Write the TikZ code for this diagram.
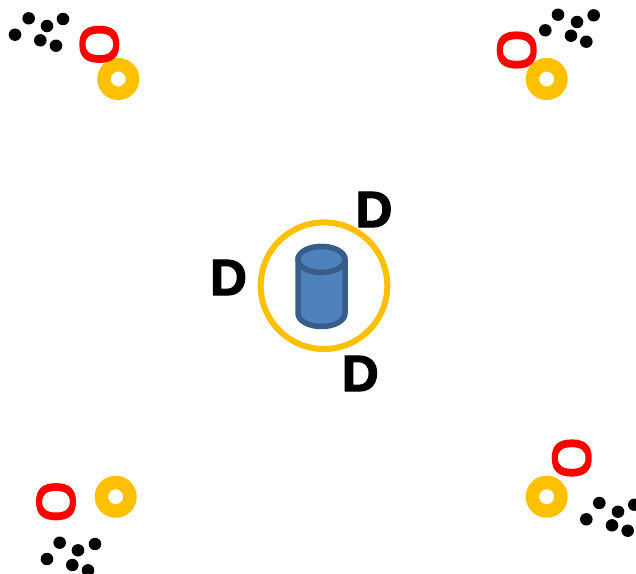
\documentclass[tikz,border=0pt]{standalone}
\usepackage{fontspec}
\setmainfont{Liberation Sans}[BoldFeatures={FakeBold=2.5}]
\usetikzlibrary{calc}
\definecolor{ringyellow}{HTML}{FFC000}
\definecolor{cylfill}{HTML}{4F81BD}
\definecolor{cylline}{HTML}{385D8A}
\tikzset{
  dotmark/.style={fill=black,draw=none},
  donut/.style={draw=ringyellow,line width=13.5pt,fill=none},
  redring/.style={fill=red,even odd rule,draw=none},
  bigring/.style={draw=ringyellow,line width=6pt,fill=none},
  cyl/.style={draw=cylline,line width=5.5pt,fill=cylfill,line join=round},
  dlabel/.style={inner sep=0pt,font=\fontsize{51}{51}\selectfont\bfseries,text=black}
}
\newcommand{\sixdots}[6]{%
  \foreach \p in {#1,#2,#3,#4,#5,#6} {\fill[dotmark] \p circle[x radius=6.3,y radius=6.2];}}
\newcommand{\donutring}[2]{\draw[donut] (#1,#2) circle[radius=14.25];}
\newcommand{\blob}[2]{%
  (-#1,0) .. controls (-#1,-0.68*#2) and (-0.68*#1,-#2) .. (0,-#2)
  .. controls (0.68*#1,-#2) and (#1,-0.68*#2) .. (#1,0)
  .. controls (#1,0.68*#2) and (0.68*#1,#2) .. (0,#2)
  .. controls (-0.68*#1,#2) and (-#1,0.68*#2) .. (-#1,0) -- cycle}
\newcommand{\redloop}[2]{\begin{scope}[shift={(#1,#2)}]\fill[redring] \blob{20}{18.6} \blob{13.8}{10.8};\end{scope}}
\begin{document}
\begin{tikzpicture}[x=1pt,y=-1pt]
\useasboundingbox (0,0) rectangle (636,573);
\fill[white] (0,0) rectangle (636,573);
% top left
\sixdots{(28.7,18.3)}{(63,19)}{(47,26)}{(15,34.7)}{(40.3,40.3)}{(56,45.7)}
\donutring{118.3}{79}
\redloop{99.3}{44.3}
% top right
\sixdots{(558,14.7)}{(593.7,15.3)}{(577,22)}{(545.3,30.3)}{(571,35.7)}{(586.3,41.7)}
\donutring{546.7}{79}
\redloop{516.7}{50}
% bottom left
\sixdots{(59.7,542.7)}{(95,544)}{(78,550.3)}{(47,559)}{(72.3,565)}{(88,570.3)}
\donutring{115.7}{496.7}
\redloop{56}{501.7}
% bottom right
\sixdots{(599.3,503)}{(634.3,504.7)}{(618,511.7)}{(586.3,519.3)}{(612,525.3)}{(627.7,530.7)}
\donutring{546.7}{496.7}
\redloop{571.7}{458}
% centre
\draw[bigring] (324,285.7) circle[radius=63.3];
\draw[cyl] (298,259.5) -- (298,313.5) arc[start angle=180,end angle=360,x radius=23.5,y radius=-13] -- (345,259.5) arc[start angle=0,end angle=180,x radius=23.5,y radius=-13] -- cycle;
\draw[cyl] (321.5,259.5) ellipse[x radius=23.5,y radius=13];
\node[dlabel] (d1) at (374,209.5) {D};
\node[dlabel] (d2) at (228.5,277.5) {D};
\node[dlabel] (d3) at (360.3,373.5) {D};
\end{tikzpicture}
\end{document}
